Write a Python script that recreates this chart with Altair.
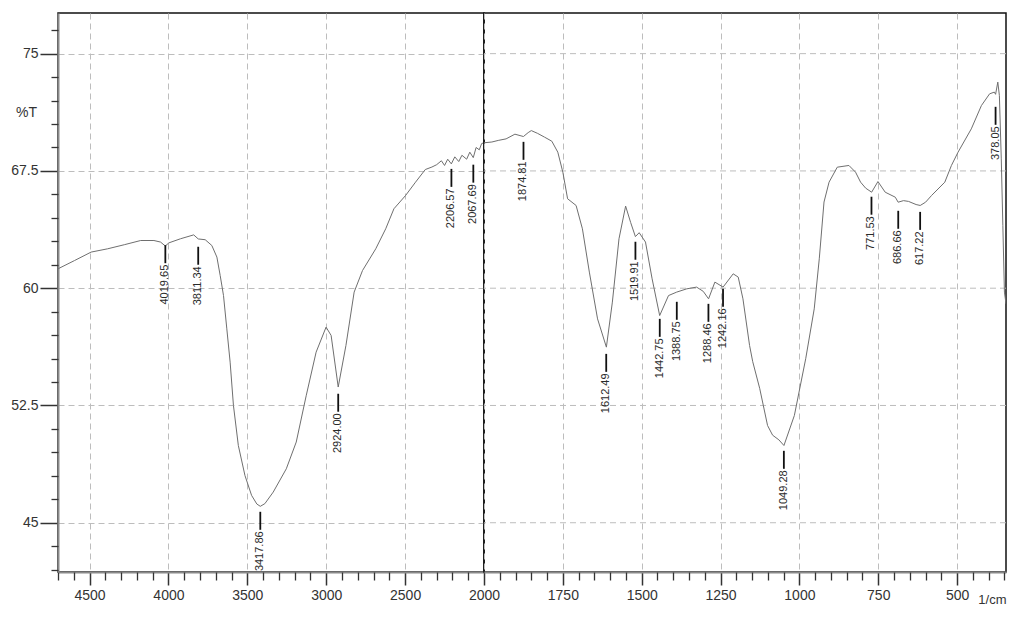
import altair as alt
import pandas as pd

# ---- spectrum (wavenumber 1/cm, %T) ----
wavenumber = [4700, 4595, 4490, 4385, 4280, 4176, 4092, 4050, 4020, 3997, 3924, 3840, 3811,
              3767, 3725, 3693, 3672, 3651, 3630, 3609, 3588, 3557, 3515, 3473, 3440, 3418,
              3389, 3336, 3253, 3190, 3127, 3064, 3001, 2969, 2924, 2875, 2823, 2770, 2686,
              2623, 2571, 2497, 2434, 2372, 2330, 2300, 2270, 2250, 2230, 2207, 2185, 2160,
              2140, 2110, 2090, 2068, 2050, 2030, 2015, 2000, 1975, 1955, 1930, 1902, 1875,
              1860, 1850, 1830, 1808, 1785, 1766, 1750, 1735, 1708, 1688, 1666, 1640, 1612,
              1593, 1572, 1551, 1535, 1520, 1508, 1488, 1467, 1443, 1415, 1389, 1357, 1326,
              1305, 1288, 1268, 1242, 1210, 1194, 1179, 1158, 1148, 1126, 1101, 1085, 1065,
              1049, 1016, 980, 953, 937, 922, 906, 880, 843, 822, 806, 790, 771, 751, 728,
              696, 687, 670, 654, 630, 617, 600, 581, 539, 518, 497, 455, 423, 397, 382,
              378, 371, 366, 360, 355, 350, 345]
transmittance = [61.24, 61.77, 62.31, 62.52, 62.78, 63.05, 63.05, 62.95, 62.70, 62.90, 63.16,
                 63.41, 63.15, 63.10, 62.73, 61.99, 60.81, 59.53, 57.40, 55.27, 52.50, 49.94,
                 48.02, 46.75, 46.20, 46.05, 46.22, 46.96, 48.45, 50.16, 53.12, 55.91, 57.51,
                 56.98, 53.68, 56.34, 59.75, 61.13, 62.52, 63.80, 65.08, 65.93, 66.78, 67.59,
                 67.75, 67.90, 68.15, 67.85, 68.25, 67.95, 68.40, 68.10, 68.50, 68.25, 68.70,
                 68.35, 69.00, 68.85, 69.25, 69.30, 69.35, 69.45, 69.55, 69.85, 69.70, 69.95,
                 70.08, 69.90, 69.66, 69.40, 68.70, 67.42, 65.72, 65.29, 63.80, 61.03, 58.04,
                 56.23, 59.11, 63.16, 65.25, 64.20, 63.30, 63.55, 62.95, 60.60, 58.25, 59.53,
                 59.75, 59.96, 60.07, 59.80, 59.32, 60.39, 60.07, 60.92, 60.71, 59.32, 56.34,
                 55.30, 53.60, 51.22, 50.60, 50.30, 49.94, 51.86, 55.49, 58.68, 61.88, 65.51,
                 66.78, 67.74, 67.85, 67.42, 66.78, 66.40, 66.14, 66.82, 66.14, 65.82, 65.50,
                 65.60, 65.55, 65.35, 65.29, 65.50, 65.93, 66.78, 67.85, 68.70, 70.19, 71.68,
                 72.43, 72.54, 72.40, 73.18, 72.32, 68.27, 64.01, 59.75, 59.00]

# ---- peak annotations: wavenumber and %T where the marker line starts ----
peak_wavenumber = [4019.65, 3811.34, 3417.86, 2924.00, 2206.57, 2067.69, 1874.81, 1612.49,
                   1519.91, 1442.75, 1388.75, 1288.46, 1242.16, 1049.28, 771.53, 686.66,
                   617.22, 378.05]
peak_label_top = [62.75, 62.65, 45.70, 53.25, 67.63, 67.90, 69.36, 55.80, 62.97, 58.04,
                  59.13, 59.00, 59.96, 49.60, 65.85, 64.95, 64.88, 71.60]

# ---- axis ticks ----
y_major = [45, 52.5, 60, 67.5, 75]
y_minor = [42.0, 43.5, 46.5, 48.0, 49.5, 51.0, 54.0, 55.5, 57.0, 58.5, 61.5, 63.0, 64.5,
           66.0, 69.0, 70.5, 72.0, 73.5, 76.5]
x_major_left = [4500, 4000, 3500, 3000, 2500]
x_minor_left = [w for w in range(2100, 4701, 100) if w % 500]
x_major_right = [2000, 1750, 1500, 1250, 1000, 750, 500]
x_minor_right = [w for w in range(350, 2000, 50) if w % 250]

spec_df = pd.DataFrame({"w": wavenumber, "t": transmittance})
peak_df = pd.DataFrame({"w": peak_wavenumber, "top": peak_label_top})
grid_df = pd.DataFrame({"g": y_major})

FONT = "Liberation Sans"
YDOM = [41.85, 77.6]
PLOT_H = 559
GRID_COLOR = "#bdbdbd"

common_axis = dict(labelFont=FONT, titleFont=FONT, labelColor="#333", titleColor="#333",
                   tickColor="#333", domainColor="#8a8a8a", domainWidth=2)


def panel(side):
    if side == "left":
        dom, width = [2000, 4700], 426
        data = spec_df[spec_df.w >= 2000]
        pk = peak_df[peak_df.w >= 2000]
        xmaj, xmin = x_major_left, x_minor_left
    else:
        dom, width = [345, 2000], 522
        data = spec_df[spec_df.w <= 2000]
        pk = peak_df[peak_df.w < 2000]
        xmaj, xmin = x_major_right, x_minor_right

    xs = alt.Scale(domain=dom, reverse=True, nice=False, zero=False)
    ys = alt.Scale(domain=YDOM, nice=False, zero=False)

    x_major_axis_kw = dict(values=xmaj, orient="bottom", grid=True, gridColor=GRID_COLOR,
                           gridDash=[6, 4], gridWidth=1, tickSize=13, tickWidth=1.5,
                           labelFontSize=14, labelPadding=3, labelFlush=False,
                           labelOverlap=False, format="d", **common_axis)
    if side == "right":
        x_major_axis = alt.Axis(title="1/cm", titleFontSize=13, titleFontWeight="normal",
                                titleX=width, titleY=27, titleAlign="right",
                                titleBaseline="middle", **x_major_axis_kw)
    else:
        x_major_axis = alt.Axis(title=None, **x_major_axis_kw)
    x_minor_axis = alt.Axis(values=xmin, orient="bottom", grid=False, labels=False,
                            domain=False, tickSize=8, tickWidth=1.3, tickColor="#333",
                            title=None)

    layers = []
    if side == "left":
        y_major_axis = alt.Axis(values=y_major, orient="left", grid=True, gridColor=GRID_COLOR,
                                gridDash=[6, 4], gridWidth=1, tickSize=18, tickWidth=1.5,
                                labelFontSize=14, labelPadding=2, labelFlush=False,
                                labelOverlap=False,
                                labelExpr="replace(format(datum.value, '.1f'), '.0', '')",
                                title="%T", titleAngle=0,
                                titleFontSize=14, titleFontWeight="normal", titleX=-32,
                                titleY=99, titleAlign="center", titleBaseline="middle",
                                **common_axis)
        y_minor_axis = alt.Axis(values=y_minor, orient="left", grid=False, labels=False,
                                domain=False, tickSize=7, tickWidth=1.3, tickColor="#333",
                                title=None)
    else:
        y_major_axis = None
        y_minor_axis = None
        layers.append(
            alt.Chart(grid_df).mark_rule(color=GRID_COLOR, strokeDash=[6, 4], strokeWidth=1)
            .encode(y=alt.Y("g:Q", scale=ys, axis=None))
        )

    line = alt.Chart(data).mark_line(color="#6f6f6f", strokeWidth=1, clip=True).encode(
        x=alt.X("w:Q", scale=xs, axis=x_major_axis),
        y=alt.Y("t:Q", scale=ys, axis=y_major_axis),
        order=alt.Order("w:Q", sort="descending"),
    )
    minor = alt.Chart(data).mark_line(opacity=0, clip=True).encode(
        x=alt.X("w:Q", scale=xs, axis=x_minor_axis),
        y=alt.Y("t:Q", scale=ys, axis=y_minor_axis),
    )
    rules = alt.Chart(pk).transform_calculate(bot="datum.top - 1.15").mark_rule(
        color="#111", strokeWidth=1.8
    ).encode(
        x=alt.X("w:Q", scale=xs, axis=None),
        y=alt.Y("top:Q", scale=ys, axis=None),
        y2="bot:Q",
    )
    texts = alt.Chart(pk).transform_calculate(ty="datum.top - 1.25").mark_text(
        angle=270, align="right", baseline="middle", fontSize=11, font=FONT, color="#2a2a2a"
    ).encode(
        x=alt.X("w:Q", scale=xs, axis=None),
        y=alt.Y("ty:Q", scale=ys, axis=None),
        text=alt.Text("w:Q", format=".2f"),
    )
    layers += [line, minor, rules, texts]
    return alt.layer(*layers).resolve_axis(
        x="independent", y="independent"
    ).properties(width=width, height=PLOT_H)


chart = alt.hconcat(panel("left"), panel("right"), spacing=0, bounds="flush").properties(
    padding={"left": 2, "top": 4, "right": 0, "bottom": 0}, background="white"
).configure_view(stroke="#111", strokeWidth=1.5)

chart.save("out.html", embed_options={"renderer": "svg", "actions": False})
